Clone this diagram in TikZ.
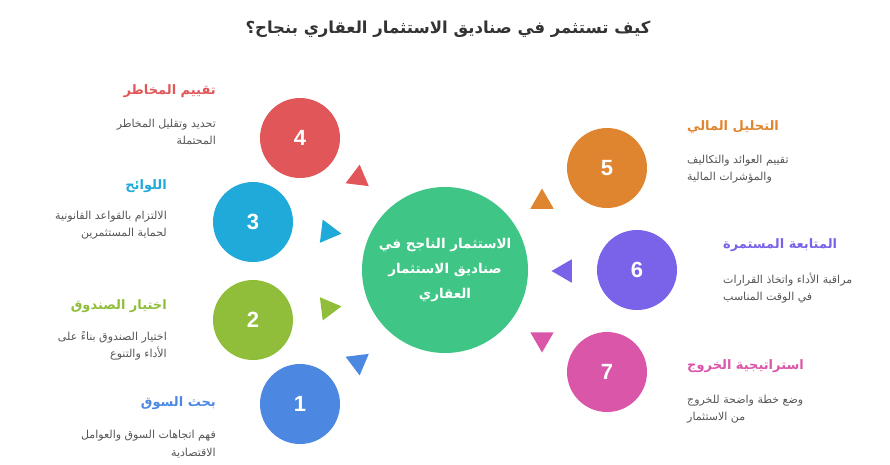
\documentclass[tikz,border=0pt]{standalone}
\usepackage{fontspec}
\setmainfont{Liberation Sans}
\newfontfamily\arabicfont[Script=Arabic]{DejaVu Sans}
\TeXXeTstate=1
\usetikzlibrary{shapes.geometric}
\newcommand{\ar}[1]{{\arabicfont\beginR #1\endR}}
\definecolor{cRed}{HTML}{E15759}
\definecolor{cCyan}{HTML}{1FAADA}
\definecolor{cGreen}{HTML}{90BD3A}
\definecolor{cBlue}{HTML}{4C88E2}
\definecolor{cOrange}{HTML}{E0852F}
\definecolor{cPurple}{HTML}{7B63E9}
\definecolor{cPink}{HTML}{DA56A9}
\definecolor{cCenter}{HTML}{3FC586}
\definecolor{cTitle}{HTML}{333333}
\definecolor{cDesc}{HTML}{555555}
\tikzset{
  num/.style={circle, minimum size=80pt, inner sep=0pt, text=white, font=\fontsize{22}{26}\selectfont\bfseries},
  tri/.style={regular polygon, regular polygon sides=3, minimum size=27pt, inner sep=0pt},
  lbl/.style={font=\fontsize{13}{16}\selectfont\bfseries, inner sep=0pt},
  desc/.style={font=\fontsize{11}{17.5}\selectfont, text=cDesc, inner sep=0pt},
}
\begin{document}
\begin{tikzpicture}[x=1pt,y=-1pt]
\useasboundingbox (0,0) rectangle (890,464);
% title
\node[font=\fontsize{16.5}{20}\selectfont\bfseries, text=cTitle, inner sep=0pt] (title) at (448,29) {\ar{كيف تستثمر في صناديق الاستثمار العقاري بنجاح؟}};
% center
\node[circle, minimum size=166pt, inner sep=0pt, fill=cCenter, text=white, align=center, font=\fontsize{13.5}{25}\selectfont\bfseries] (center) at (445,270) {\ar{الاستثمار الناجح في}\\\ar{صناديق الاستثمار}\\\ar{العقاري}};
% numbered circles
\node[num, fill=cRed] (n4) at (300,138) {4};
\node[num, fill=cCyan] (n3) at (253,222) {3};
\node[num, fill=cGreen] (n2) at (253,320) {2};
\node[num, fill=cBlue] (n1) at (300,404) {1};
\node[num, fill=cOrange] (n5) at (607,168) {5};
\node[num, fill=cPurple] (n6) at (637,270) {6};
\node[num, fill=cPink] (n7) at (607,372) {7};
% triangles
\node[tri, fill=cRed, rotate=-7] (t4) at (358,178) {};
\node[tri, fill=cCyan, rotate=-97] (t3) at (328,232) {};
\node[tri, fill=cGreen, rotate=-83] (t2) at (328,308) {};
\node[tri, fill=cBlue, rotate=187] (t1) at (358,362) {};
\node[tri, fill=cOrange] (t5) at (542,202) {};
\node[tri, fill=cPurple, rotate=90] (t6) at (565,271) {};
\node[tri, fill=cPink, rotate=180] (t7) at (542,339) {};
% left labels
\node[lbl, text=cRed, anchor=east] (l4) at (216,91) {\ar{تقييم المخاطر}};
\node[desc, align=right, anchor=east] (d4) at (216,132) {\ar{تحديد وتقليل المخاطر}\\\ar{المحتملة}};
\node[lbl, text=cCyan, anchor=east] (l3) at (167,186) {\ar{اللوائح}};
\node[desc, align=right, anchor=east] (d3) at (167,225) {\ar{الالتزام بالقواعد القانونية}\\\ar{لحماية المستثمرين}};
\node[lbl, text=cGreen, anchor=east] (l2) at (167,306) {\ar{اختيار الصندوق}};
\node[desc, align=right, anchor=east] (d2) at (167,346) {\ar{اختيار الصندوق بناءً على}\\\ar{الأداء والتنوع}};
\node[lbl, text=cBlue, anchor=east] (l1) at (216,403) {\ar{بحث السوق}};
\node[desc, align=right, anchor=east] (d1) at (216,444) {\ar{فهم اتجاهات السوق والعوامل}\\\ar{الاقتصادية}};
% right labels
\node[lbl, text=cOrange, anchor=west] (l5) at (687,127) {\ar{التحليل المالي}};
\node[desc, align=left, anchor=west] (d5) at (687,169) {\ar{تقييم العوائد والتكاليف}\\\ar{والمؤشرات المالية}};
\node[lbl, text=cPurple, anchor=west] (l6) at (723,245) {\ar{المتابعة المستمرة}};
\node[desc, align=left, anchor=west] (d6) at (723,288) {\ar{مراقبة الأداء واتخاذ القرارات}\\\ar{في الوقت المناسب}};
\node[lbl, text=cPink, anchor=west] (l7) at (687,366) {\ar{استراتيجية الخروج}};
\node[desc, align=left, anchor=west] (d7) at (687,409) {\ar{وضع خطة واضحة للخروج}\\\ar{من الاستثمار}};
\end{tikzpicture}
\end{document}
